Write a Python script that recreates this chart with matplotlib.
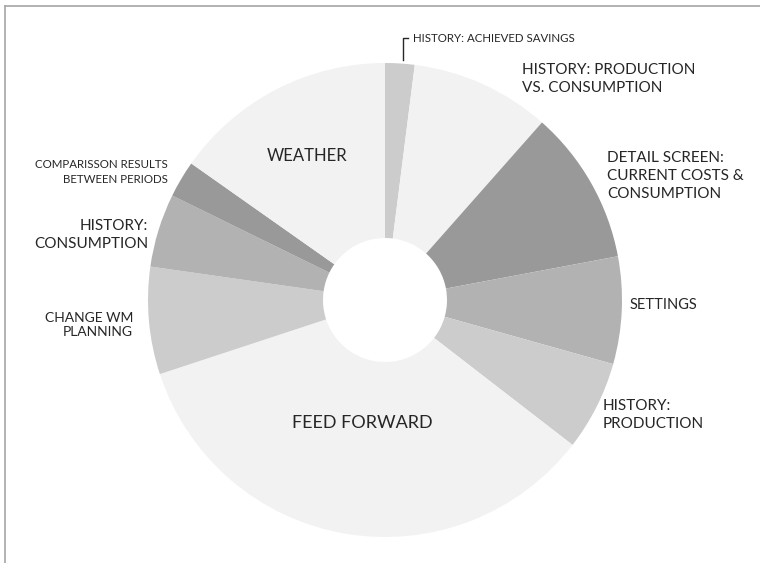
import matplotlib.pyplot as plt
from matplotlib.lines import Line2D

# wedges, clockwise from 12 o'clock
labels = ["HISTORY: ACHIEVED SAVINGS", "HISTORY: PRODUCTION\nVS. CONSUMPTION",
          "DETAIL SCREEN:\nCURRENT COSTS &\nCONSUMPTION", "SETTINGS",
          "HISTORY:\nPRODUCTION", "FEED FORWARD", "CHANGE WM\nPLANNING",
          "HISTORY:\nCONSUMPTION", "COMPARISSON RESULTS\nBETWEEN PERIODS", "WEATHER"]
shares = [2.0, 9.5, 10.5, 7.3, 6.1, 34.4, 7.3, 5.0, 2.5, 15.2]
colors = ["#cccccc", "#f2f2f2", "#999999", "#b2b2b2", "#cccccc",
          "#f2f2f2", "#cccccc", "#b2b2b2", "#999999", "#f2f2f2"]

W, H = 760, 563
plt.rcParams['font.family'] = ['Lato', 'DejaVu Sans']

fig = plt.figure(figsize=(7.6, 5.63), dpi=100)
ax = fig.add_axes([0, 0, 1, 1])

cx, cy, R, r_in = 385, H - 300, 237, 62
ax.pie(shares, colors=colors, startangle=90, counterclock=False,
       center=(cx, cy), radius=R, frame=True,
       wedgeprops=dict(width=R - r_in, linewidth=0))
ax.set_xlim(0, W)
ax.set_ylim(0, H)
ax.set_aspect('equal')
ax.axis('off')

# label placement in pixel coords (x, y from top, align, size, line spacing)
places = [
    (413, 38, 'left', 8.3, 1.3),
    (522, 79, 'left', 11, 1.4),
    (607, 176, 'left', 11, 1.4),
    (630, 305, 'left', 10.5, 1.2),
    (603, 415, 'left', 11, 1.4),
    (362, 423, 'center', 13, 1.2),
    (133, 325, 'right', 10, 1.3),
    (148, 235, 'right', 11, 1.4),
    (168, 172, 'right', 8.3, 1.5),
    (307, 156, 'center', 12, 1.2),
]
for lab, (x, y, ha, fs, ls) in zip(labels, places):
    ax.text(x, H - y, lab, ha=ha, va='center', fontsize=fs, color='#262626',
            multialignment=ha, linespacing=ls)

# leader for the small top wedge
ax.add_line(Line2D([403, 403, 408], [H - 60, H - 38, H - 38], color='#262626', lw=1))

# frame lines on top and left
ax.add_line(Line2D([5, W], [H - 6, H - 6], color='#a6a6a6', lw=1.2))
ax.add_line(Line2D([5, 5], [0, H - 6], color='#a6a6a6', lw=1.2))

fig.savefig('out.png', dpi=100)
